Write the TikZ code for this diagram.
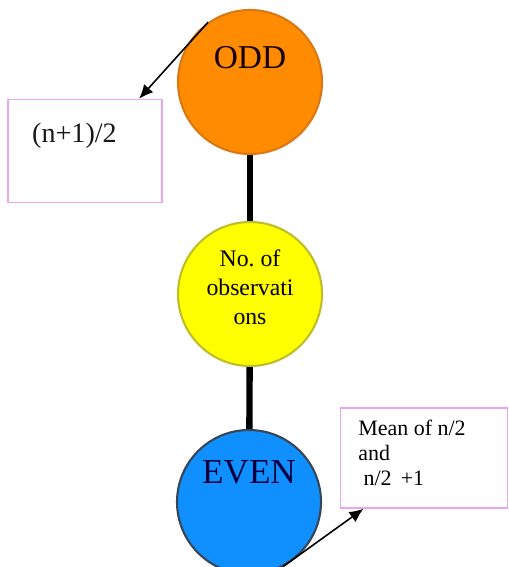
\documentclass[tikz,border=0pt]{standalone}
\usepackage{fontspec}
\setmainfont{Liberation Serif}
\usetikzlibrary{positioning}
\usetikzlibrary{arrows.meta}
\definecolor{oddorange}{RGB}{255,140,0}
\definecolor{oddedge}{RGB}{220,120,20}
\definecolor{obsyellow}{RGB}{255,255,0}
\definecolor{obsedge}{RGB}{190,190,40}
\definecolor{evenblue}{RGB}{16,144,255}
\definecolor{evenedge}{RGB}{55,70,85}
\definecolor{boxpink}{RGB}{235,165,240}

\tikzset{
    circ/.style={circle, draw, line width=1.2pt, minimum size=2.88cm, inner sep=0pt},
    outbox/.style={draw=boxpink, line width=0.9pt, fill=white, inner sep=0pt},
    stem/.style={line width=3.6pt, black},
    pointer/.style={-{Latex[length=8pt, width=7pt]}, line width=0.9pt}
}

\begin{document}
\begin{tikzpicture}[x=0.02cm, y=-0.02cm]
\useasboundingbox (0,0) rectangle (509,567);
\clip (0,0) rectangle (509,567);

% --- circles ---
\node[circ, fill=oddorange, draw=oddedge] (odd) at (250,82) {};
\node[circ, fill=obsyellow, draw=obsedge] (obs) at (250,294) {};
\node[circ, fill=evenblue, draw=evenedge] (even) at (249,502) {};

\node[font=\fontsize{19}{22}\selectfont, text=black!90!red] (oddlbl) at (250,58) {ODD};
\node[font=\fontsize{13.5}{16.4}\selectfont, align=center] (obslbl) at (250,287)
    {No.\ of\\observati\\ons};
\node[font=\fontsize{20}{23}\selectfont, text=black!75!blue] (evenlbl) at (249,472) {EVEN};

% --- stems ---
\draw[stem] (odd) -- (obs);
\draw[stem] (obs) -- (even);

% --- boxes ---
\node[outbox, minimum width=3.08cm, minimum height=2.06cm] (oddbox) at (85,151) {};
\node[anchor=base west, font=\fontsize{16}{19}\selectfont, text=black!90] (oddtxt) at (26,143) {(n+1)/2};

\node[outbox, minimum width=3.34cm, minimum height=2.0cm] (evenbox) at (424,458) {};
\node[anchor=north west, align=left, inner sep=0pt,
      font=\fontsize{12.5}{14.2}\selectfont] (eventxt) at (358,420)
    {Mean of n/2\\and\\\hspace*{3pt}n/2 \,+1};

% --- pointers ---
\draw[pointer] (odd.125) -- (oddbox.44);
\draw[pointer] (even.-62) -- (evenbox.220);
\end{tikzpicture}
\end{document}
